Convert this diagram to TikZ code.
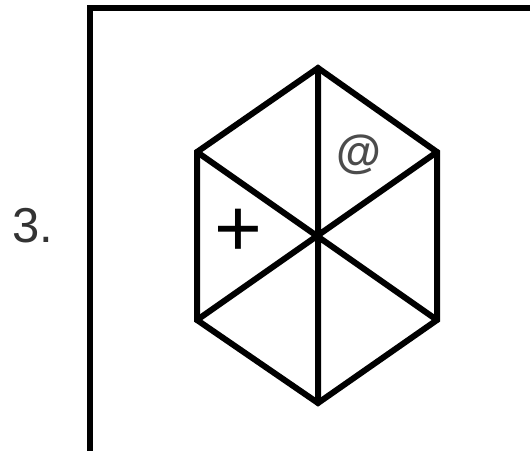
\documentclass[tikz,border=0pt]{standalone}
\usepackage{fontspec}
\setmainfont{Liberation Sans}
\begin{document}
\begin{tikzpicture}[x=1pt,y=-1pt,
  hexline/.style={line width=6pt,line join=miter,line cap=round},
  boxline/.style={line width=6.5pt},
  lbl/.style={inner sep=0pt,anchor=center}]
\useasboundingbox (0,0) rectangle (530,450);
\clip (0,0) rectangle (530,450);
\draw[boxline] (90,8) rectangle (540,460);
\coordinate (C) at (318,236);
\coordinate (T) at (318,68);
\coordinate (UR) at (437,152);
\coordinate (LR) at (437,320);
\coordinate (B) at (318,403);
\coordinate (LL) at (197,320);
\coordinate (UL) at (197,152);
\draw[hexline] (T) -- (UR) -- (LR) -- (B) -- (LL) -- (UL) -- cycle;
\draw[hexline] (T) -- (B) (UR) -- (LL) (UL) -- (LR);
\node[lbl,font=\fontsize{49}{50}\selectfont,text=black!80] (n3) at (33,226) {3.};
\node[lbl,font=\fontsize{82}{84}\selectfont] (plus) at (238,233) {+};
\node[lbl,font=\fontsize{46}{48}\selectfont\bfseries,text=black!70] (at) at (359,155) {@};
\end{tikzpicture}
\end{document}
